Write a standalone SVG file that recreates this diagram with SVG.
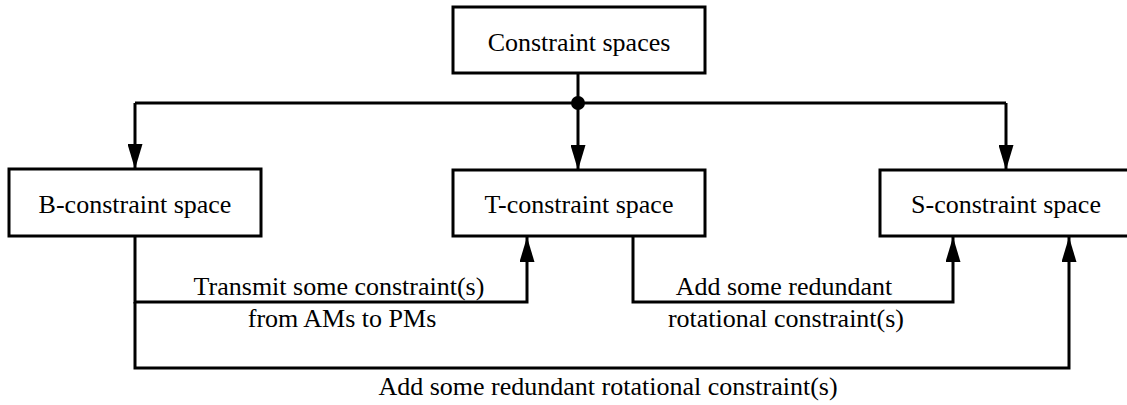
<svg xmlns="http://www.w3.org/2000/svg" width="1127" height="405" viewBox="0 0 1127 405">
<style>
.box{fill:#fff;stroke:#000;stroke-width:3}
.ln{fill:none;stroke:#000;stroke-width:3}
text{font-family:"Liberation Serif","Times New Roman",serif;font-size:26px;fill:#000;text-anchor:middle}
</style>
<defs>
<marker id="ah" viewBox="0 0 25 15" refX="25" refY="7.5" markerWidth="25" markerHeight="15" markerUnits="userSpaceOnUse" orient="auto">
<path d="M0,0 L25,7.5 L0,15 Z" fill="#000"/>
</marker>
</defs>
<g id="connectors">
<path class="ln" d="M578,73 V103"/>
<path class="ln" d="M135,103 H1006"/>
<path class="ln" d="M135,103 V169" marker-end="url(#ah)"/>
<path class="ln" d="M578,103 V170" marker-end="url(#ah)"/>
<path class="ln" d="M1006,103 V170" marker-end="url(#ah)"/>
<circle cx="578" cy="103" r="7" fill="#000"/>
<path class="ln" d="M135,236 V302 H527 V237" marker-end="url(#ah)"/>
<path class="ln" d="M633,236 V302 H953 V237" marker-end="url(#ah)"/>
<path class="ln" d="M135,302 V368 H1069 V237" marker-end="url(#ah)"/>
<text x="339" y="295">Transmit some constraint(s)</text>
<text x="342" y="327">from AMs to PMs</text>
<text x="784" y="295">Add some redundant</text>
<text x="786" y="327">rotational constraint(s)</text>
<text x="608" y="395">Add some redundant rotational constraint(s)</text>
</g>
<g id="top">
<rect class="box" x="453" y="7" width="252" height="66"/>
<text x="579" y="51">Constraint spaces</text>
</g>
<g id="b">
<rect class="box" x="9" y="169" width="252" height="67"/>
<text x="135" y="213">B-constraint space</text>
</g>
<g id="t">
<rect class="box" x="453" y="170" width="252" height="66"/>
<text x="579" y="213">T-constraint space</text>
</g>
<g id="s">
<rect class="box" x="880" y="170" width="252" height="66"/>
<text x="1006" y="213">S-constraint space</text>
</g>
</svg>
